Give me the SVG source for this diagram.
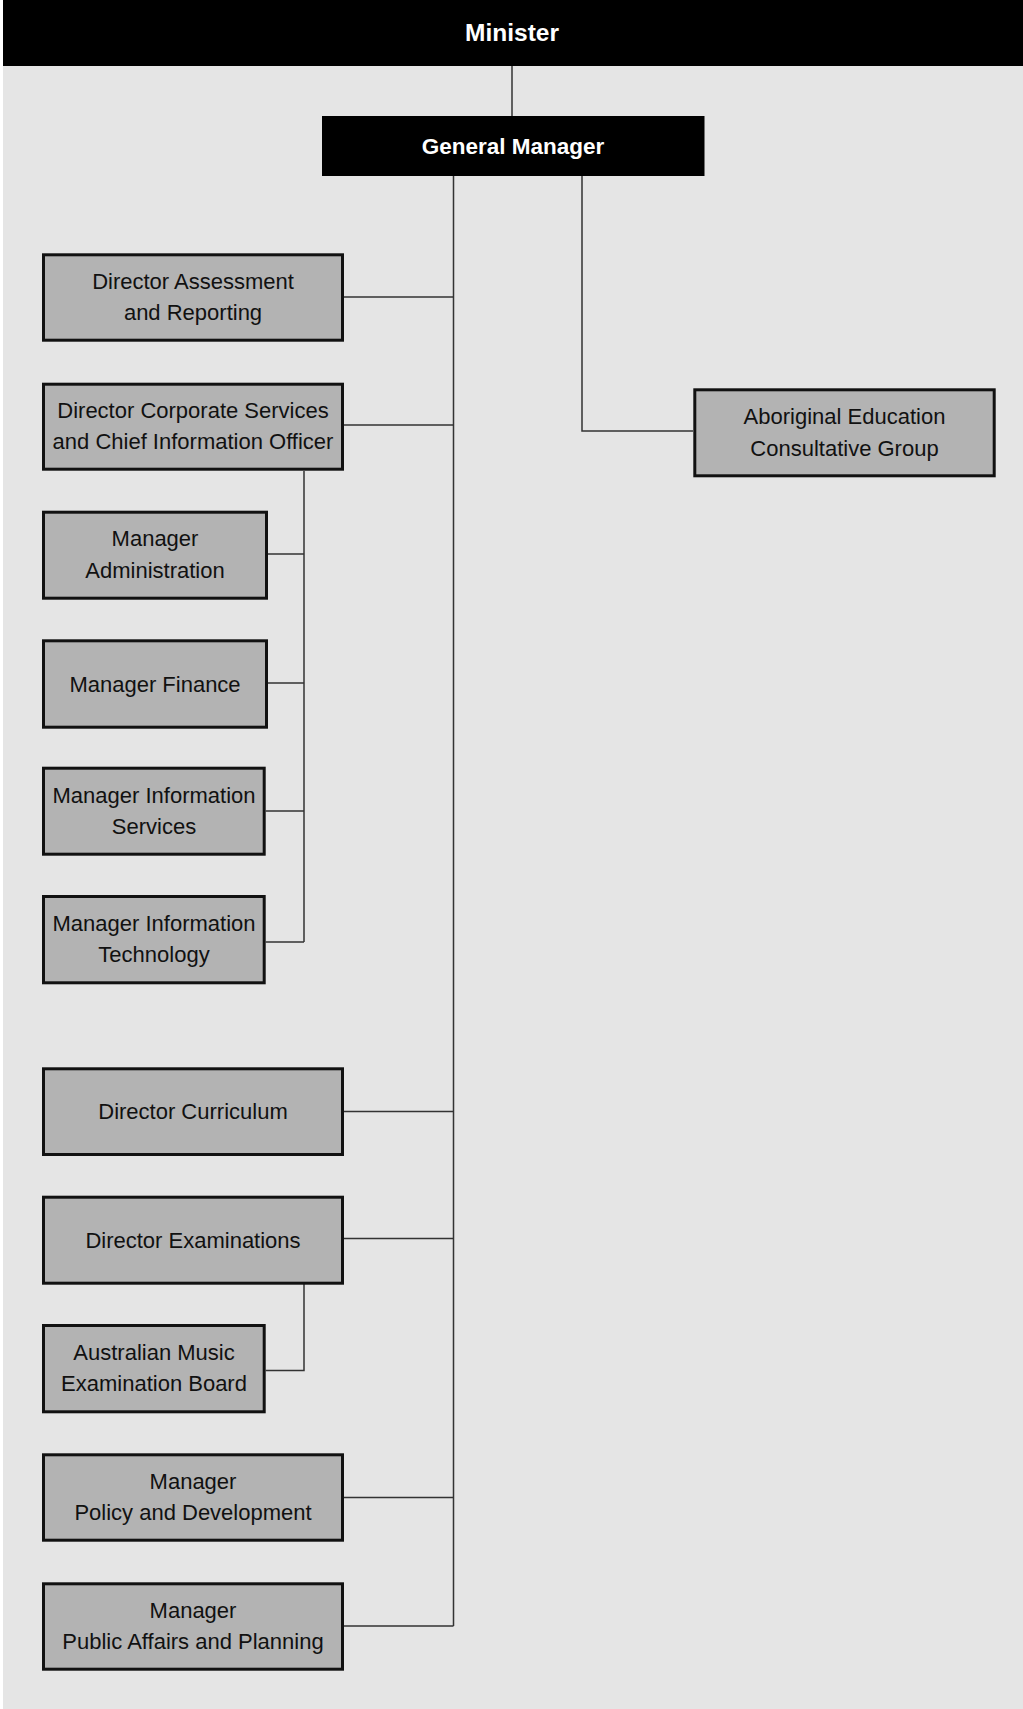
<svg xmlns="http://www.w3.org/2000/svg" width="1023" height="1709" viewBox="0 0 1023 1709">
<style>
.box{fill:#b3b3b3;stroke:#111;stroke-width:3}
.t{font-family:"Liberation Sans",Arial,sans-serif;font-size:22px;fill:#111;text-anchor:middle}
.tb{font-family:"Liberation Sans",Arial,sans-serif;font-weight:bold;fill:#fff;text-anchor:middle}
.c{fill:none;stroke:#333;stroke-width:1.5}
</style>
<rect x="0" y="0" width="1023" height="1709" fill="#fff"/>
<rect x="3" y="66" width="1020" height="1643" fill="#e5e5e5"/>
<g id="connectors">
<path class="c" d="M512 66V116"/>
<path class="c" d="M453.5 176V1626"/>
<path class="c" d="M344 297H453.5M344 425H453.5M344 1111.5H453.5M344 1238.5H453.5M344 1497.5H453.5M344 1626H453.5"/>
<path class="c" d="M582 176V431H693"/>
<path class="c" d="M304 471V942M268 554H304M268 683H304M265.7 811H304M265.7 942H304"/>
<path class="c" d="M304 1284V1370.5H265.7"/>
</g>
<g id="minister">
<rect x="3" y="0" width="1020" height="66" fill="#000"/>
<text class="tb" x="512" y="41" font-size="24.5">Minister</text>
</g>
<g id="general-manager">
<rect x="322" y="116" width="382.5" height="60" fill="#000"/>
<text class="tb" x="513" y="154" font-size="22.5">General Manager</text>
</g>
<g id="dir-assessment">
<rect class="box" x="43.5" y="254.8" width="299" height="85.4"/>
<text class="t" x="193" y="288.5">Director Assessment</text>
<text class="t" x="193" y="320">and Reporting</text>
</g>
<g id="dir-corporate">
<rect class="box" x="43.5" y="384.2" width="299" height="85"/>
<text class="t" x="193" y="417.8">Director Corporate Services</text>
<text class="t" x="193" y="449.4">and Chief Information Officer</text>
</g>
<g id="mgr-admin">
<rect class="box" x="43.5" y="512.2" width="223" height="86"/>
<text class="t" x="155" y="546.3">Manager</text>
<text class="t" x="155" y="577.9">Administration</text>
</g>
<g id="mgr-finance">
<rect class="box" x="43.5" y="640.8" width="223" height="86.4"/>
<text class="t" x="155" y="691.6">Manager Finance</text>
</g>
<g id="mgr-info-services">
<rect class="box" x="43.5" y="768.2" width="220.7" height="86"/>
<text class="t" x="154" y="802.5">Manager Information</text>
<text class="t" x="154" y="834">Services</text>
</g>
<g id="mgr-info-tech">
<rect class="box" x="43.5" y="896.5" width="220.7" height="86.3"/>
<text class="t" x="154" y="931">Manager Information</text>
<text class="t" x="154" y="962.4">Technology</text>
</g>
<g id="dir-curriculum">
<rect class="box" x="43.5" y="1068.8" width="299" height="85.7"/>
<text class="t" x="193" y="1119.3">Director Curriculum</text>
</g>
<g id="dir-examinations">
<rect class="box" x="43.5" y="1197.2" width="299" height="86"/>
<text class="t" x="193" y="1247.8">Director Examinations</text>
</g>
<g id="ameb">
<rect class="box" x="43.5" y="1325.5" width="220.7" height="86.3"/>
<text class="t" x="154" y="1359.9">Australian Music</text>
<text class="t" x="154" y="1391.4">Examination Board</text>
</g>
<g id="mgr-policy">
<rect class="box" x="43.5" y="1454.8" width="299" height="85.4"/>
<text class="t" x="193" y="1488.7">Manager</text>
<text class="t" x="193" y="1520.2">Policy and Development</text>
</g>
<g id="mgr-public-affairs">
<rect class="box" x="43.5" y="1583.8" width="299" height="85.4"/>
<text class="t" x="193" y="1617.7">Manager</text>
<text class="t" x="193" y="1649.2">Public Affairs and Planning</text>
</g>
<g id="aboriginal">
<rect class="box" x="694.8" y="389.8" width="299.4" height="86"/>
<text class="t" x="844.5" y="424">Aboriginal Education</text>
<text class="t" x="844.5" y="455.5">Consultative Group</text>
</g>
</svg>
